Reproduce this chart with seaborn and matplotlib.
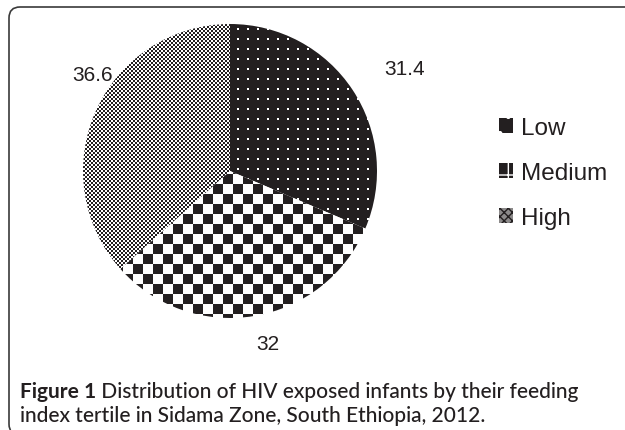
"""
Feeding index tertiles of HIV exposed infants - pie chart
"""
import numpy as np
import matplotlib
matplotlib.use("Agg")
import matplotlib.pyplot as plt
import seaborn as sns
from matplotlib.patches import PathPatch, Patch
from matplotlib.path import Path

# ---------------------------------------------------------
# DATA
# ---------------------------------------------------------
tertiles = ["Low", "Medium", "High"]
percent = [31.4, 32, 36.6]
value_labels = ["31.4", "32", "36.6"]

sns.set_style("white")
plt.rcParams["font.family"] = ["Liberation Sans", "DejaVu Sans"]

INK = "#231f20"
W, H = 625, 431

fig = plt.figure(figsize=(W / 100, H / 100), dpi=100)

# frame around figure + caption (open on the right, rounded at the left corners)
bg = fig.add_axes([0, 0, 1, 1])
bg.set_xlim(0, W)
bg.set_ylim(H, 0)
bg.axis("off")
frame = Path([(W + 5, 8), (20, 8), (9, 8), (9, 19), (9, 425), (9, 436), (20, 436)],
             [Path.MOVETO, Path.LINETO, Path.CURVE3, Path.CURVE3, Path.LINETO,
              Path.CURVE3, Path.CURVE3])
bg.add_patch(PathPatch(frame, fill=False, ec="#3a3a3a", lw=1.2))

# ---------------------------------------------------------
# PIE
# ---------------------------------------------------------
cx, cy, r = 230, 172, 147
ax = fig.add_axes([(cx - r) / W, (H - cy - r) / H, 2 * r / W, 2 * r / H])
wedges, _ = ax.pie(percent, startangle=90, counterclock=False, radius=1,
                   wedgeprops=dict(linewidth=0, facecolor="none"))
ax.set_xlim(-1, 1)
ax.set_ylim(-1, 1)
ax.set_aspect("equal")
ax.axis("off")

# pattern fills (print-style textures)
n = 2 * r
yy, xx = np.mgrid[0:n, 0:n]
ink = np.array(matplotlib.colors.to_rgb(INK))
white = np.ones(3)

def texture(mask):
    img = np.empty((n, n, 3))
    img[mask] = white
    img[~mask] = ink
    return img

tex_low = texture(((xx % 10) >= 4) & ((xx % 10) <= 5) & ((yy % 10) >= 4) & ((yy % 10) <= 5))
tex_med = texture(((xx // 10 + yy // 10) % 2) == 0)
tex_high = texture(((xx // 2 + yy // 2) % 2) == 0)

for w, tex in zip(wedges, [tex_low, tex_med, tex_high]):
    im = ax.imshow(tex, extent=(-1, 1, -1, 1), interpolation="nearest", zorder=2)
    im.set_clip_path(w)

# value labels
label_dist = [1.38, 1.20, 1.14]
label_nudge = [-3, 3, -11]
for w, txt, d, nud in zip(wedges, value_labels, label_dist, label_nudge):
    mid = np.deg2rad((w.theta1 + w.theta2) / 2 + nud)
    ax.text(d * np.cos(mid), d * np.sin(mid), txt, ha="center", va="center",
            fontsize=15, color=INK, clip_on=False)

# legend
handles = [
    Patch(facecolor=INK, edgecolor="white", hatch=".", lw=0),
    Patch(facecolor=INK, edgecolor="white", hatch="+", lw=0),
    Patch(facecolor="#8c8a8a", edgecolor=INK, hatch="xxxx", lw=0),
]
fig.legend(handles, tertiles, loc="center left", bbox_to_anchor=(477 / W, 1 - 174 / H),
           frameon=False, fontsize=17.5, handlelength=0.6, handleheight=0.6,
           handletextpad=0.3, labelspacing=0.95, labelcolor=INK)

# ---------------------------------------------------------
# CAPTION
# ---------------------------------------------------------
cap_font = ["Lato", "DejaVu Sans"]
t1 = bg.text(20, 398, "Figure 1", fontsize=15, fontweight="bold", color=INK,
             family=cap_font, va="baseline")
bg.annotate(" Distribution of HIV exposed infants by their feeding", xy=(1, 0),
            xycoords=t1, va="bottom", fontsize=15, color=INK, family=cap_font,
            fontweight="medium")
bg.text(20, 422, "index tertile in Sidama Zone, South Ethiopia, 2012.", fontsize=15,
        color=INK, family=cap_font, va="baseline", fontweight="medium")

plt.savefig("out.png", dpi=100)
plt.close()
